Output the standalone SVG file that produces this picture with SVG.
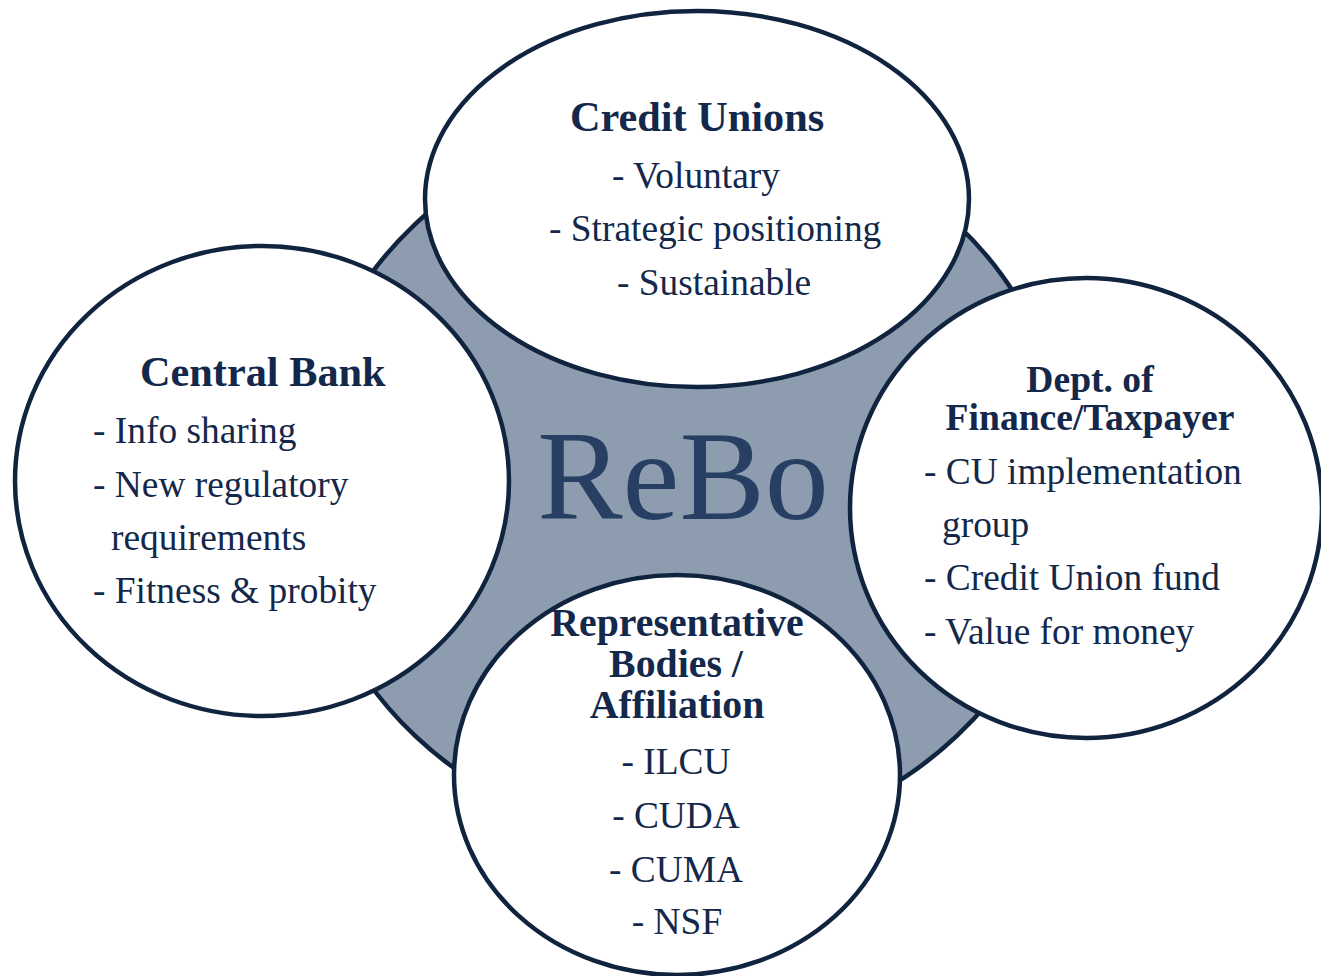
<svg xmlns="http://www.w3.org/2000/svg" width="1321" height="976" viewBox="0 0 1321 976">
  <style>
    .hub { fill: #8E9CAF; stroke: #10243F; stroke-width: 4.5; }
    .node { fill: #FFFFFF; stroke: #10243F; stroke-width: 4.5; }
    text { font-family: "Liberation Serif", "Times New Roman", serif; fill: #13284A; }
    .title { font-weight: bold; font-size: 42.3px; }
    .title-right { font-weight: bold; font-size: 37.6px; }
    .title-bottom { font-weight: bold; font-size: 39.8px; }
    .item { font-size: 37.4px; }
    .hubtext { font-size: 128px; fill: #263F62; }
  </style>

  <!-- central hub -->
  <g id="hub">
    <ellipse class="hub" cx="686" cy="480" rx="383" ry="362"/>
    <text class="hubtext" x="683" y="519" text-anchor="middle">ReBo</text>
  </g>

  <!-- no connectors: the nodes sit directly on the hub -->
  <g id="connectors"/>

  <g id="credit-unions">
    <ellipse class="node" cx="697" cy="199" rx="272" ry="188"/>
    <text class="title" x="570" y="131">Credit Unions</text>
    <text class="item" x="612" y="188">- Voluntary</text>
    <text class="item" x="549" y="241">- Strategic positioning</text>
    <text class="item" x="617" y="295">- Sustainable</text>
  </g>

  <g id="central-bank">
    <ellipse class="node" cx="262" cy="481" rx="247" ry="235"/>
    <text class="title" x="140" y="386">Central Bank</text>
    <text class="item" x="93" y="443">- Info sharing</text>
    <text class="item" x="93" y="497">- New regulatory</text>
    <text class="item" x="111" y="550">requirements</text>
    <text class="item" x="93" y="603">- Fitness &amp; probity</text>
  </g>

  <g id="dept-finance">
    <ellipse class="node" cx="1086" cy="508" rx="236" ry="230"/>
    <text class="title-right" x="1090" y="392" text-anchor="middle">Dept. of</text>
    <text class="title-right" x="1090" y="430" text-anchor="middle">Finance/Taxpayer</text>
    <text class="item" x="924" y="484">- CU implementation</text>
    <text class="item" x="942" y="537">group</text>
    <text class="item" x="924" y="590">- Credit Union fund</text>
    <text class="item" x="924" y="644">- Value for money</text>
  </g>

  <g id="representative-bodies">
    <ellipse class="node" cx="677" cy="775" rx="223" ry="200"/>
    <text class="title-bottom" x="677" y="636" text-anchor="middle">Representative</text>
    <text class="title-bottom" x="676" y="677" text-anchor="middle">Bodies /</text>
    <text class="title-bottom" x="677" y="718" text-anchor="middle">Affiliation</text>
    <text class="item" x="676" y="774" text-anchor="middle">- ILCU</text>
    <text class="item" x="676" y="828" text-anchor="middle">- CUDA</text>
    <text class="item" x="676" y="882" text-anchor="middle">- CUMA</text>
    <text class="item" x="677" y="934" text-anchor="middle">- NSF</text>
  </g>
</svg>
